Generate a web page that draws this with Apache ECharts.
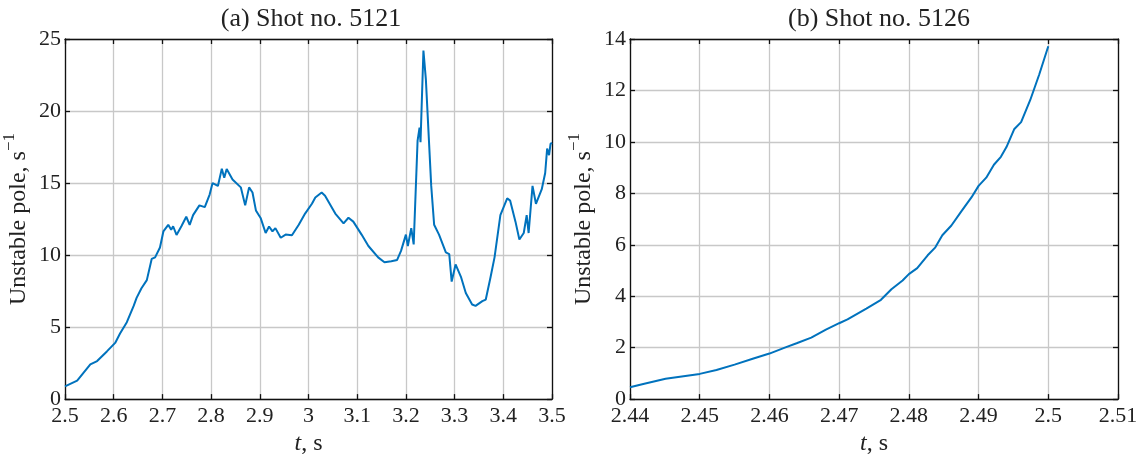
<!DOCTYPE html>
<html>
<head>
<meta charset="utf-8">
<script src="https://cdn.jsdelivr.net/npm/echarts@6/dist/echarts.min.js"></script>
<style>
  html, body { margin: 0; padding: 0; background: #fff; }
  #main { width: 1143px; height: 461px; }
</style>
</head>
<body>
<div id="main"></div>
<script>
// (a) shot 5121
const tA = [2.5, 2.525, 2.552, 2.566, 2.586, 2.603, 2.613, 2.627, 2.641, 2.647, 2.657, 2.668, 2.678, 2.685, 2.695,
  2.702, 2.712, 2.718, 2.722, 2.729, 2.739, 2.749, 2.756, 2.763, 2.776, 2.787, 2.797, 2.803, 2.814, 2.822,
  2.827, 2.832, 2.844, 2.861, 2.87, 2.878, 2.885, 2.892, 2.902, 2.912, 2.919, 2.926, 2.932, 2.943, 2.953,
  2.966, 2.98, 2.993, 3.007, 3.014, 3.027, 3.034, 3.055, 3.072, 3.082, 3.092, 3.109, 3.123, 3.143, 3.156,
  3.17, 3.182, 3.19, 3.2, 3.204, 3.211, 3.216, 3.224, 3.228, 3.23, 3.236, 3.241, 3.252, 3.258, 3.268,
  3.282, 3.289, 3.294, 3.302, 3.313, 3.323, 3.336, 3.343, 3.357, 3.364, 3.374, 3.382, 3.394, 3.408, 3.414,
  3.425, 3.433, 3.442, 3.448, 3.452, 3.46, 3.467, 3.479, 3.486, 3.49, 3.494, 3.497, 3.5];
const poleA = [0.88, 1.28, 2.41, 2.64, 3.31, 3.9, 4.55, 5.34, 6.47, 7.03, 7.7, 8.26, 9.73, 9.84, 10.52,
  11.64, 12.1, 11.75, 12.0, 11.4, 12.0, 12.66, 12.1, 12.77, 13.45, 13.33, 14.2, 15.0, 14.8, 16.0,
  15.36, 15.97, 15.25, 14.7, 13.45, 14.7, 14.34, 13.1, 12.55, 11.53, 11.98, 11.64, 11.87, 11.2, 11.42,
  11.37, 12.1, 12.88, 13.56, 14.0, 14.34, 14.12, 12.88, 12.2, 12.59, 12.32, 11.42, 10.63, 9.84, 9.5,
  9.57, 9.66, 10.29, 11.42, 10.63, 11.87, 10.74, 17.95, 18.85, 17.84, 24.2, 22.2, 14.8, 12.1, 11.42,
  10.18, 10.07, 8.16, 9.35, 8.49, 7.36, 6.57, 6.47, 6.8, 6.91, 8.49, 9.84, 12.77, 13.94, 13.78,
  12.32, 11.08, 11.53, 12.77, 11.53, 14.8, 13.56, 14.57, 15.7, 17.39, 16.94, 17.72, 17.8];

// (b) shot 5126
const tB = [2.44, 2.4419, 2.4451, 2.45, 2.4524, 2.455, 2.4576, 2.46, 2.4623, 2.4639, 2.466, 2.4681, 2.47,
  2.4712, 2.4739, 2.476, 2.4775, 2.4791, 2.48, 2.4812, 2.4827, 2.4838, 2.4848, 2.4861, 2.4875, 2.489,
  2.49, 2.4911, 2.4922, 2.4932, 2.494, 2.4951, 2.4961, 2.4974, 2.4987, 2.5];
const poleB = [0.46, 0.59, 0.79, 0.98, 1.13, 1.34, 1.57, 1.77, 2.01, 2.17, 2.39, 2.70, 2.95,
  3.10, 3.52, 3.86, 4.27, 4.61, 4.86, 5.09, 5.59, 5.90, 6.37, 6.75, 7.29, 7.85,
  8.29, 8.61, 9.11, 9.42, 9.80, 10.49, 10.77, 11.62, 12.62, 13.72];

const titles = ['(a) Shot no. 5121', '(b) Shot no. 5126'];

const FONT = 'Liberation Serif';
const lineColor = '#0072BD';

let fmt = v => String(+v.toFixed(2));

let xAxes = (gi, min, max, step) => [
  {
    type: 'value', gridIndex: gi, position: 'bottom', min: min, max: max, interval: step,
    name: '{i|t}, s', nameLocation: 'middle', nameGap: 32,
    nameTextStyle: { fontFamily: FONT, fontSize: 24, color: '#222',
      rich: { i: { fontFamily: FONT, fontSize: 24, fontStyle: 'italic', color: '#222' } } },
    axisLine: { show: true, onZero: false, lineStyle: { color: '#111', width: 1.3 } },
    axisTick: { show: true, inside: true, length: 5, lineStyle: { color: '#111', width: 1.3 } },
    axisLabel: { fontFamily: FONT, fontSize: 22, color: '#222', margin: 6, formatter: fmt, showMaxLabel: true, showMinLabel: true },
    splitLine: { show: true, lineStyle: { color: '#c8c8c8', width: 1.3 } }
  },
  {
    type: 'value', gridIndex: gi, position: 'top', min: min, max: max, interval: step,
    axisLine: { show: true, onZero: false, lineStyle: { color: '#111', width: 1.3 } },
    axisTick: { show: true, inside: true, length: 5, lineStyle: { color: '#111', width: 1.3 } },
    axisLabel: { show: false },
    splitLine: { show: false }
  }
];

let yAxes = (gi, min, max, step) => [
  {
    type: 'value', gridIndex: gi, position: 'left', min: min, max: max, interval: step,
    name: '{n|Unstable pole, s}{sup|−1}', nameLocation: 'middle', nameGap: 34, nameRotate: 90,
    nameTextStyle: { fontFamily: FONT, fontSize: 24, color: '#222',
      rich: {
        n: { fontFamily: FONT, fontSize: 24, color: '#222', lineHeight: 30, verticalAlign: 'bottom' },
        sup: { fontFamily: FONT, fontSize: 17, color: '#222', lineHeight: 30, verticalAlign: 'top' }
      } },
    axisLine: { show: true, onZero: false, lineStyle: { color: '#111', width: 1.3 } },
    axisTick: { show: true, inside: true, length: 5, lineStyle: { color: '#111', width: 1.3 } },
    axisLabel: { fontFamily: FONT, fontSize: 22, color: '#222', margin: 4 },
    splitLine: { show: true, lineStyle: { color: '#c8c8c8', width: 1.3 } }
  },
  {
    type: 'value', gridIndex: gi, position: 'right', min: min, max: max, interval: step,
    axisLine: { show: true, onZero: false, lineStyle: { color: '#111', width: 1.3 } },
    axisTick: { show: true, inside: true, length: 5, lineStyle: { color: '#111', width: 1.3 } },
    axisLabel: { show: false },
    splitLine: { show: false }
  }
];

let option = {
  animation: false,
  backgroundColor: '#fff',
  title: [
    { text: titles[0], left: 306, top: 1, textAlign: 'center',
      textStyle: { fontFamily: FONT, fontSize: 26, fontWeight: 'normal', color: '#222' } },
    { text: titles[1], left: 874, top: 1, textAlign: 'center',
      textStyle: { fontFamily: FONT, fontSize: 26, fontWeight: 'normal', color: '#222' } }
  ],
  grid: [
    { left: 61, top: 39, width: 491, height: 370 },
    { left: 630, top: 39, width: 488, height: 370 }
  ],
  xAxis: [].concat(xAxes(0, 2.5, 3.5, 0.1), xAxes(1, 2.44, 2.51, 0.01)),
  yAxis: [].concat(yAxes(0, 0, 25, 5), yAxes(1, 0, 14, 2)),
  series: [
    { type: 'line', xAxisIndex: 0, yAxisIndex: 0, showSymbol: false,
      lineStyle: { color: lineColor, width: 2 },
      data: tA.map((t, i) => [t, poleA[i]]) },
    { type: 'line', xAxisIndex: 2, yAxisIndex: 2, showSymbol: false,
      lineStyle: { color: lineColor, width: 2 },
      data: tB.map((t, i) => [t, poleB[i]]) }
  ]
};

var chart = echarts.init(document.getElementById('main'));
chart.setOption(option);
</script>
</body>
</html>
